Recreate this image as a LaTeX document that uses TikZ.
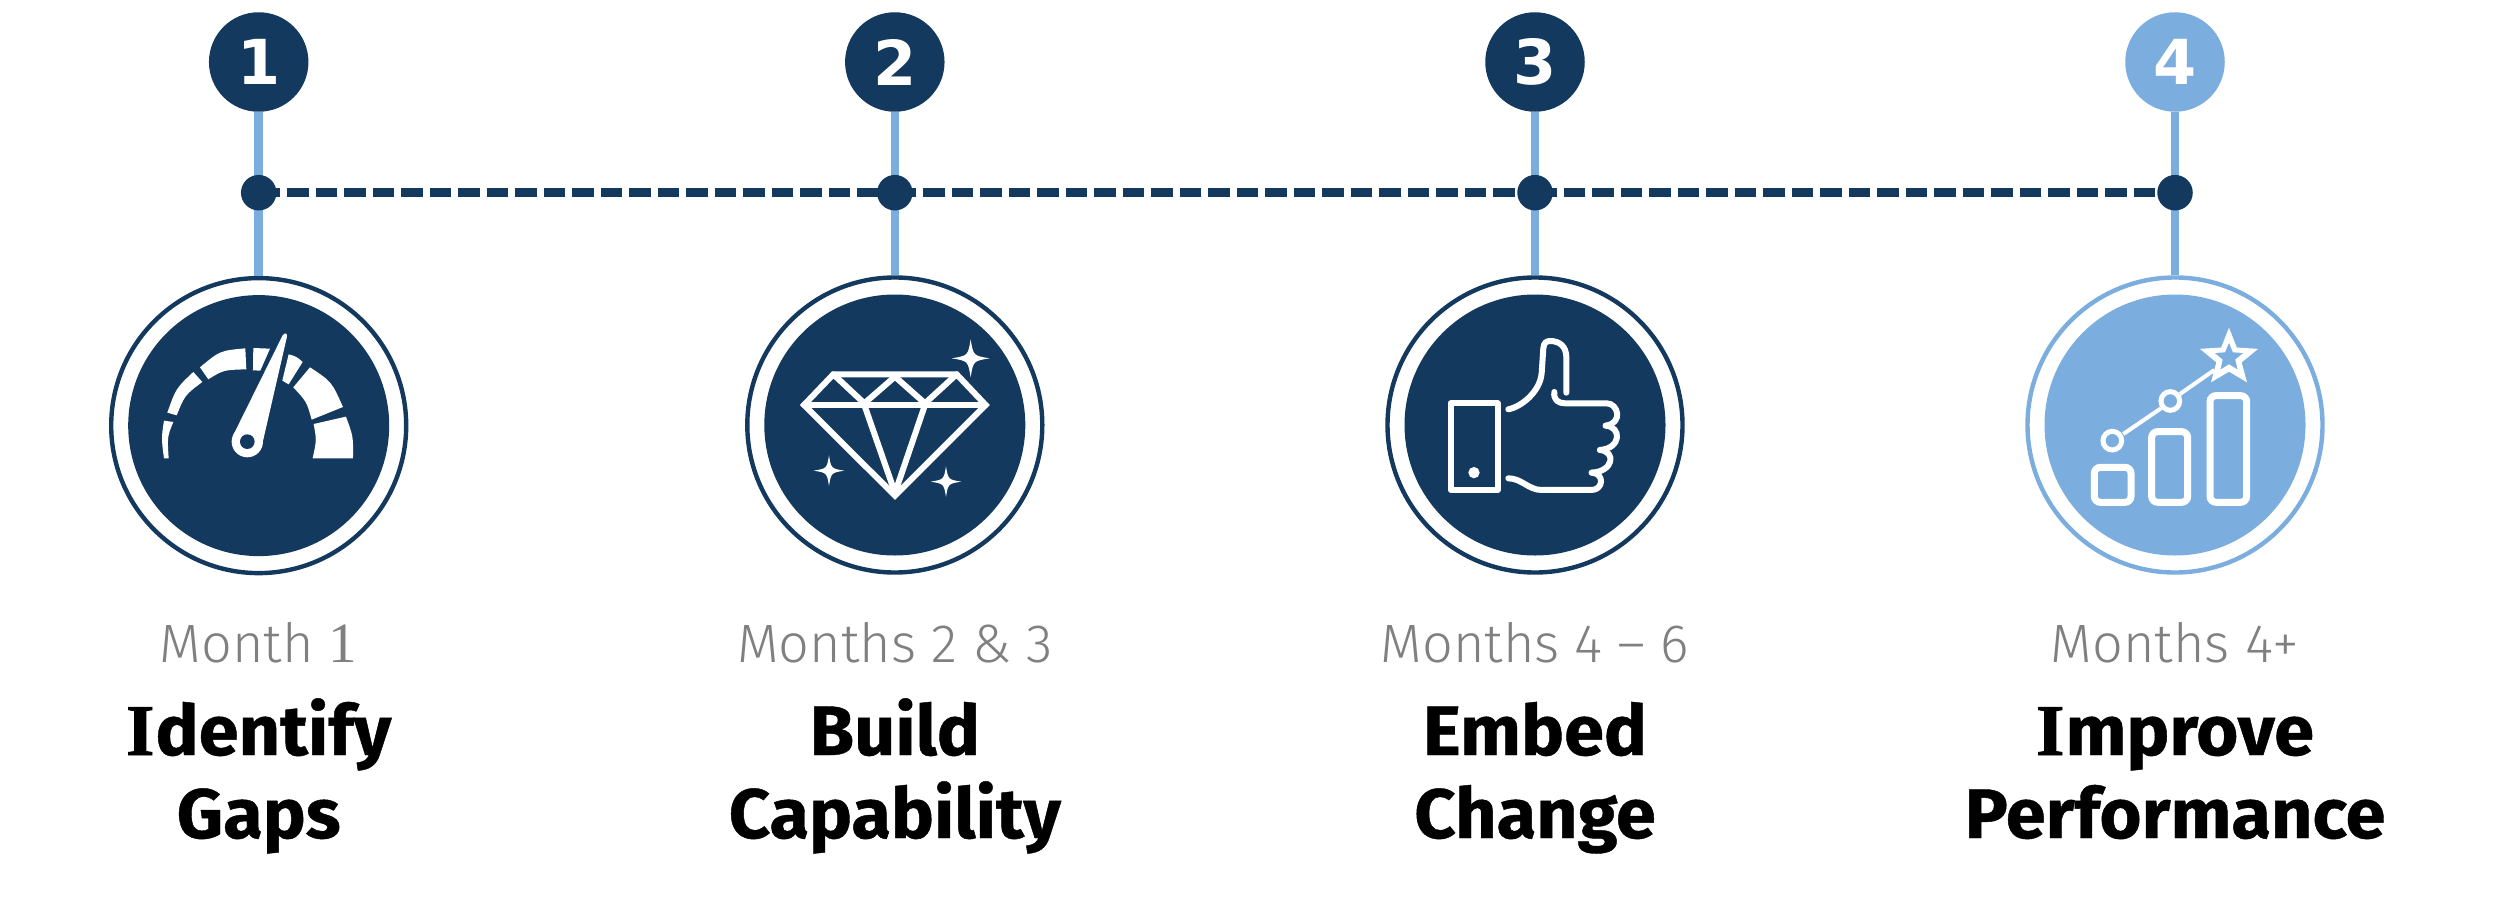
\documentclass[tikz,border=0pt]{standalone}
\usepackage{fontspec}
\setmainfont{Fira Sans Light}
\newfontfamily\headfont{Fira Sans Bold}[FakeStretch=1.03,FakeBold=0.6]
\newfontfamily\numfont{DejaVu Sans Bold}
\newfontfamily\slabfont{Liberation Serif Bold}[FakeBold=1.2]
\newfontfamily\lightslab{Liberation Serif}
\newcommand{\slabI}{{\slabfont\fontsize{73}{84}\selectfont I}}
\newcommand{\slabone}{{\lightslab\fontsize{57}{54}\selectfont 1}}
\definecolor{navy}{HTML}{14395E}
\definecolor{sky}{HTML}{7BAEDE}
\definecolor{greytxt}{HTML}{808080}
\tikzset{
  numdisc/.style={circle,minimum size=99.5pt,inner sep=0pt,text=white,font=\numfont\fontsize{62}{62}\selectfont},
  junction/.style={circle,fill=navy,minimum size=35.5pt,inner sep=0pt},
  ringnode/.style={circle,draw=#1,line width=4.4pt,fill=white,minimum size=295pt,inner sep=0pt},
  corenode/.style={circle,fill=#1,minimum size=261pt,inner sep=0pt},
  stem/.style={draw=sky,line width=8.5pt},
  dashline/.style={draw=navy,line width=8.5pt,dash pattern=on 21.6pt off 6.9pt},
  monthlabel/.style={text=greytxt,font=\fontsize{54}{54}\selectfont,anchor=base},
  titlelabel/.style={text=black,font=\headfont\fontsize{70}{84}\selectfont,align=center,anchor=base},
  zoomed/.style={shift={(#1,260)},x=0.3333pt,y=-0.3333pt},
  iconline/.style={draw=white,line join=round,line cap=round},
}
\newcommand{\sparkle}[3]{\fill[white] (#1,#2-#3) .. controls (#1+#3*.14,#2-#3*.14) .. (#1+#3,#2) .. controls (#1+#3*.14,#2+#3*.14) .. (#1,#2+#3) .. controls (#1-#3*.14,#2+#3*.14) .. (#1-#3,#2) .. controls (#1-#3*.14,#2-#3*.14) .. cycle;}
\begin{document}
\begin{tikzpicture}[x=1pt,y=-1pt]
\useasboundingbox (0,0) rectangle (2500,899);
\fill[white] (0,0) rectangle (2500,899);
% junction coordinates
\coordinate (j1) at (258.7,192.7);
\coordinate (j2) at (894.8,192.7);
\coordinate (j3) at (1535,192.7);
\coordinate (j4) at (2175,192.7);
% rings
\node[ringnode=navy] (r1) at (258.7,425.6) {};
\node[ringnode=navy] (r2) at (894.8,425) {};
\node[ringnode=navy] (r3) at (1535,425) {};
\node[ringnode=sky]  (r4) at (2175,425) {};
% number discs
\node[numdisc,fill=navy] (n1) at (258.7,62) {1};
\node[numdisc,fill=navy] (n2) at (894.8,62) {2};
\node[numdisc,fill=navy] (n3) at (1535,62) {3};
\node[numdisc,fill=sky]  (n4) at (2175,62) {4};
% connectors
\draw[stem] (n1) -- (r1);
\draw[stem] (n2) -- (r2);
\draw[stem] (n3) -- (r3);
\draw[stem] (n4) -- (r4);
\draw[dashline] (j1) -- (j2);
\draw[dashline] (j2) -- (j3);
\draw[dashline] (j3) -- (j4);
\node[junction] (d1) at (j1) {};
\node[junction] (d2) at (j2) {};
\node[junction] (d3) at (j3) {};
\node[junction] (d4) at (j4) {};
% cores
\node[corenode=navy] (c1) at (258.7,425.6) {};
\node[corenode=navy] (c2) at (894.8,425) {};
\node[corenode=navy] (c3) at (1535,425) {};
\node[corenode=sky]  (c4) at (2175,425) {};
% gauge icon
\begin{scope}[zoomed=90]
\fill[white] (222,595) .. controls (214,535) .. (222,482) -- (250,486) .. controls (232,530) .. (236,595) -- cycle;
\fill[white] (232,458) .. controls (258,385) .. (310,336) -- (337,366) .. controls (285,405) .. (260,466) -- cycle;
\fill[white] (330,322) .. controls (390,272) .. (466,265) -- (469,328) .. controls (400,330) .. (355,358) -- cycle;
\fill[white] (490,264) -- (540,266) -- (511,332) -- (489,331) -- cycle;
\fill[white] (596,283) .. controls (620,290) .. (638,306) -- (596,373) -- (577,362) -- cycle;
\fill[white] (660,322) .. controls (725,365) .. (759,441) -- (665,479) .. controls (650,425) .. (610,382) -- cycle;
\fill[white] (768,470) .. controls (790,530) .. (789,595) -- (668,595) .. controls (680,540) .. (671,492) -- cycle;
\draw[navy,line width=2.5pt] (430,525) -- (578,226) (591,230) -- (517,552);
\fill[white] (430,525) -- (578,226) .. controls (585,216) and (593,220) .. (591,230) -- (517,552) -- cycle;
\fill[white] (472,545) circle [radius=47];
\fill[navy] (472,545) circle [radius=22];
\end{scope}
% diamond icon
\begin{scope}[zoomed=730]
\begin{scope}[iconline,line width=6pt]
\draw[line cap=butt,line join=miter] (310,343) -- (680,343) -- (767,435) -- (495,707) -- (222,435) -- cycle;
\draw (222,435) -- (767,435);
\draw (310,343) -- (403,430) -- (495,350) -- (585,430) -- (680,343);
\draw (403,435) -- (492,690);
\draw (585,435) -- (498,690);
\end{scope}
\sparkle{722}{295}{57}
\sparkle{297}{632}{46}
\sparkle{648}{665}{46}
\end{scope}
% thumb icon
\begin{scope}[zoomed=1365]
\begin{scope}[iconline,line width=6pt]
\draw (257,430) rectangle (398,690);
\draw (430,448) .. controls (470,440) and (525,395) .. (530,340) -- (535,265) .. controls (536,248) and (545,243) .. (555,243) .. controls (585,243) and (603,260) .. (604,290) -- (604,398);
\draw (568,396) .. controls (565,420) and (580,430) .. (600,430) -- (725,430) .. controls (760,430) and (775,490) .. (722,497);
\draw (722,497) .. controls (770,500) and (770,565) .. (705,570);
\draw (705,570) .. controls (755,575) and (745,635) .. (680,638);
\draw (680,638) .. controls (720,640) and (715,690) .. (680,690) -- (530,690) .. controls (490,690) and (470,655) .. (430,655);
\end{scope}
\fill[white] (327,638) circle [radius=17];
\end{scope}
% chart icon
\begin{scope}[zoomed=2005]
\begin{scope}[draw=white,line width=7pt]
\draw[rounded corners=6pt] (268,622) rectangle (378,727);
\draw[rounded corners=6pt] (440,515) rectangle (548,727);
\draw[rounded corners=6pt] (615,407) rectangle (725,727);
\end{scope}
\draw[white,line width=5pt] (322,542) circle [radius=28];
\draw[white,line width=5pt] (496,423) circle [radius=28];
\draw[white,line width=4pt] (355,522) -- (468,445);
\draw[white,line width=4pt] (525,402) -- (628,330);
\fill[white,even odd rule] (672,203) -- (695.5,262.6) -- (759.5,266.6) -- (710,307) -- (726,367) -- (672,335) -- (618,367) -- (634,307) -- (584.5,266.6) -- (648.5,262.6) -- cycle
 (672,248) -- (684,277) -- (715,279) -- (691,299) -- (698,329) -- (672,313) -- (646,329) -- (653,299) -- (629,279) -- (660,277) -- cycle;
\end{scope}
% labels
\node[monthlabel] (m1) at (258.7,662) {Month \slabone};
\node[monthlabel] (m2) at (894.8,662) {Months 2 \& 3};
\node[monthlabel] (m3) at (1535,662) {Months 4 – 6};
\node[monthlabel] (m4) at (2175,662) {Months 4+};
\node[titlelabel] (t1) at (258.7,755) {\slabI\kern1pt dentify};
\node[titlelabel] (u1) at (258.7,838) {Gaps};
\node[titlelabel] (t2) at (894.8,755) {Build};
\node[titlelabel] (u2) at (894.8,838) {Capability};
\node[titlelabel] (t3) at (1535,755) {Embed};
\node[titlelabel] (u3) at (1535,838) {Change};
\node[titlelabel] (t4) at (2175,755) {\slabI\kern1pt mprove};
\node[titlelabel] (u4) at (2175,838) {Performance};
\end{tikzpicture}
\end{document}
